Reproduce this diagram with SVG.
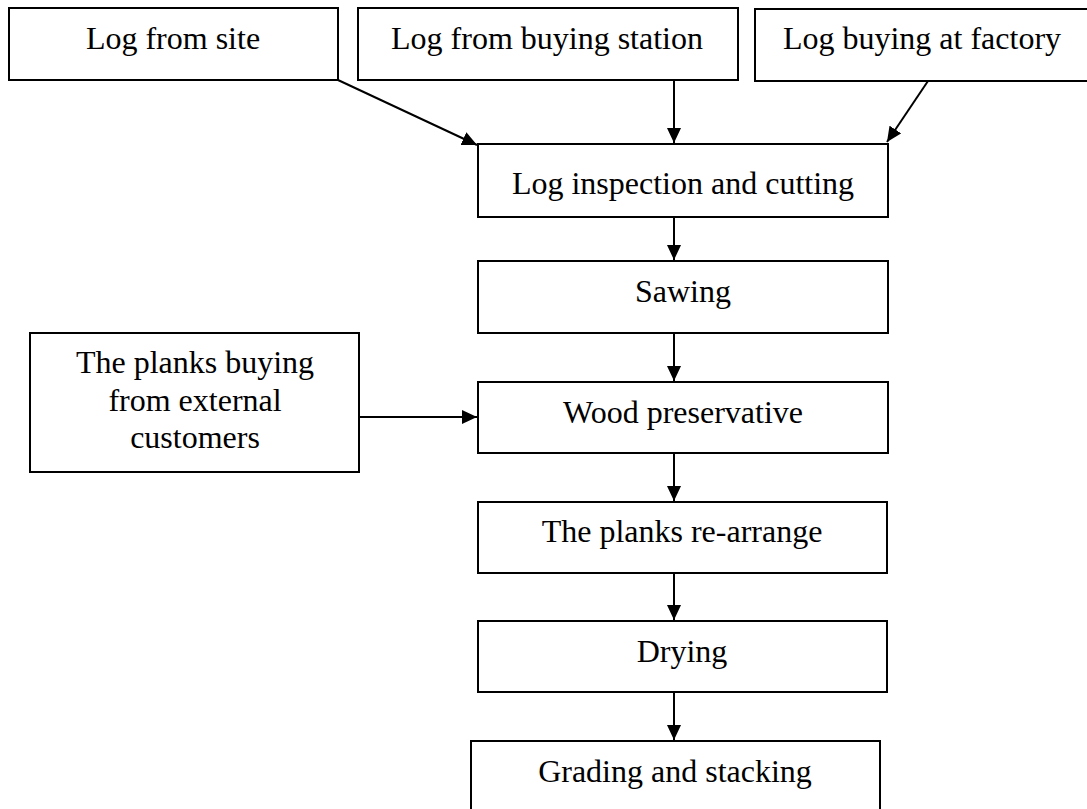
<svg xmlns="http://www.w3.org/2000/svg" width="1087" height="809" viewBox="0 0 1087 809">
<style>
.box{fill:#fff;stroke:#000;stroke-width:2}
.t{font-family:"Liberation Serif","Times New Roman",serif;font-size:32px;fill:#000;text-anchor:middle}
.c{stroke:#000;stroke-width:2;fill:none;marker-end:url(#ah)}
</style>
<defs>
<marker id="ah" viewBox="0 0 15 14" refX="15" refY="7" markerWidth="15" markerHeight="14" markerUnits="userSpaceOnUse" orient="auto">
<path d="M0,0 L15,7 L0,14 Z" fill="#000"/>
</marker>
</defs>
<rect width="1087" height="809" fill="#fff"/>
<g id="n1"><rect class="box" x="9" y="8" width="329" height="72"/><text class="t" x="173" y="49">Log from site</text></g>
<g id="n2"><rect class="box" x="358" y="8" width="380" height="72"/><text class="t" x="547" y="49">Log from buying station</text></g>
<g id="n3"><rect class="box" x="755" y="9" width="345" height="72"/><text class="t" x="922" y="49">Log buying at factory</text></g>
<g id="n4"><rect class="box" x="478" y="144" width="410" height="73"/><text class="t" x="683" y="194">Log inspection and cutting</text></g>
<g id="n5"><rect class="box" x="478" y="261" width="410" height="72"/><text class="t" x="683" y="302">Sawing</text></g>
<g id="n6"><rect class="box" x="478" y="382" width="410" height="71"/><text class="t" x="683" y="423">Wood preservative</text></g>
<g id="n7"><rect class="box" x="30" y="333" width="329" height="139"/>
<text class="t" x="195" y="373">The planks buying</text>
<text class="t" x="195" y="411">from external</text>
<text class="t" x="195" y="448">customers</text></g>
<g id="n8"><rect class="box" x="478" y="502" width="409" height="71"/><text class="t" x="682" y="542">The planks re-arrange</text></g>
<g id="n9"><rect class="box" x="478" y="621" width="409" height="71"/><text class="t" x="682" y="662">Drying</text></g>
<g id="n10"><rect class="box" x="471" y="741" width="409" height="80"/><text class="t" x="675" y="782">Grading and stacking</text></g>
<g id="connectors">
<line class="c" x1="338" y1="80" x2="477" y2="145"/>
<line class="c" x1="674" y1="80" x2="674" y2="143"/>
<line class="c" x1="928" y1="81" x2="887" y2="142"/>
<line class="c" x1="674" y1="217" x2="674" y2="260"/>
<line class="c" x1="674" y1="333" x2="674" y2="381"/>
<line class="c" x1="359" y1="417" x2="477" y2="417"/>
<line class="c" x1="674" y1="453" x2="674" y2="501"/>
<line class="c" x1="674" y1="573" x2="674" y2="620"/>
<line class="c" x1="674" y1="692" x2="674" y2="740"/>
</g>
</svg>
